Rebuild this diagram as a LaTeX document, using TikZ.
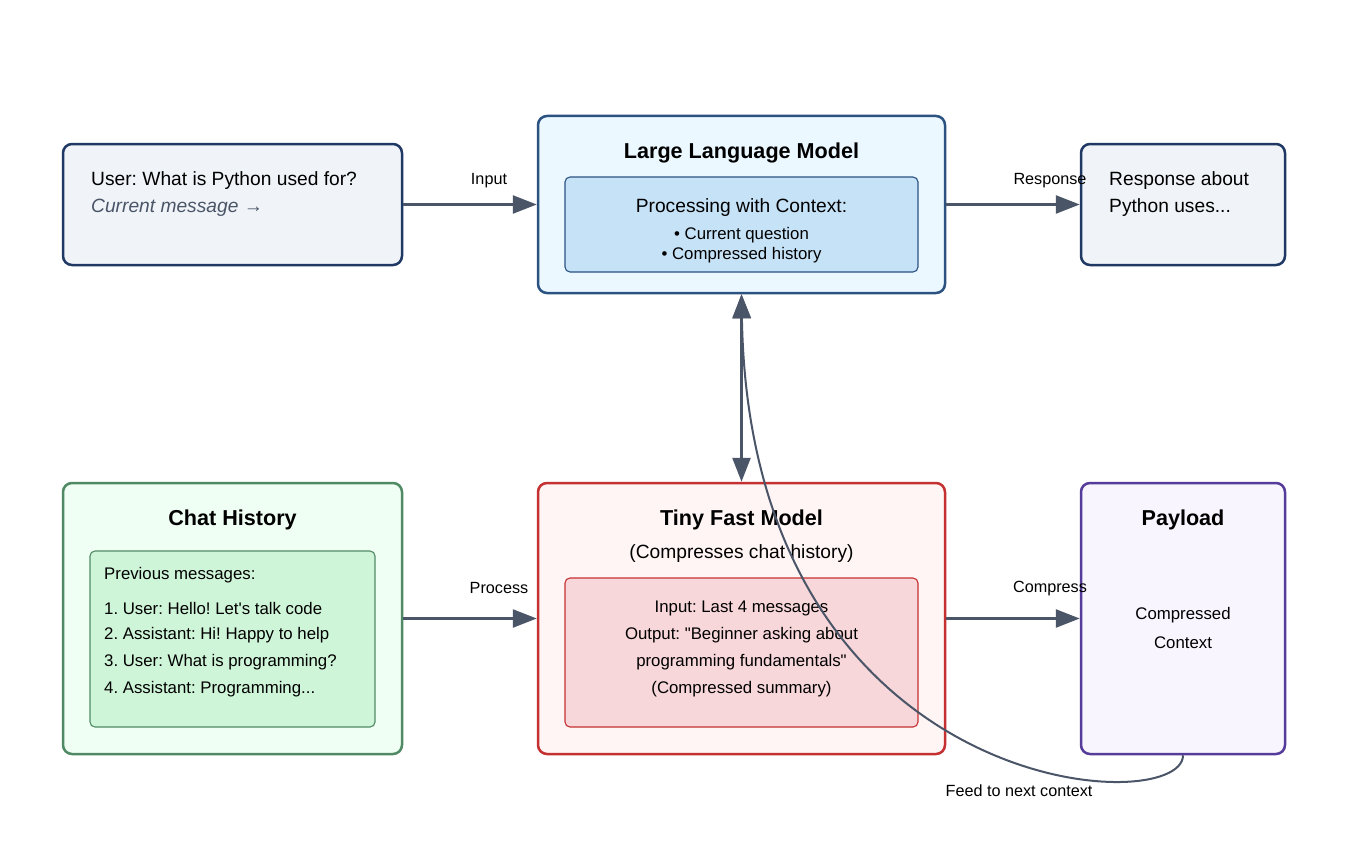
\documentclass[tikz,border=0pt]{standalone}
\usepackage{fontspec}
\setmainfont{Liberation Sans}
\usetikzlibrary{arrows.meta}
\frenchspacing
\definecolor{arrowc}{HTML}{4A5568}
\definecolor{navy}{HTML}{1F3864}
\definecolor{userfill}{HTML}{F0F4F8}
\definecolor{llmstroke}{HTML}{2C5282}
\definecolor{llmfill}{HTML}{EBF8FF}
\definecolor{llminner}{HTML}{C5E2F7}
\definecolor{grnstroke}{HTML}{4F8A65}
\definecolor{grnfill}{HTML}{F0FFF4}
\definecolor{grninner}{HTML}{CFF5D8}
\definecolor{redstroke}{HTML}{C53030}
\definecolor{redfill}{HTML}{FFF5F5}
\definecolor{redinner}{HTML}{F8D7DA}
\definecolor{purstroke}{HTML}{553C9A}
\definecolor{purfill}{HTML}{F8F5FF}
\definecolor{graytext}{HTML}{4A5568}
\newcommand\ftitle{\fontsize{21.6}{26}\selectfont\bfseries}
\newcommand\fmain{\fontsize{19.2}{23}\selectfont}
\newcommand\fsmall{\fontsize{16.8}{20}\selectfont}
\newcommand\flabel{\fontsize{16.2}{19}\selectfont}
\begin{document}
\begin{tikzpicture}[x=1pt,y=-1pt,
  outerbox/.style={draw, line width=2.5pt, rounded corners=9pt, inner sep=0pt},
  innerbox/.style={draw, line width=1.1pt, rounded corners=5pt, inner sep=0pt},
  txt/.style={inner sep=0pt, text=black},
  lbl/.style={inner sep=0pt, text=black, font=\flabel},
  arr/.style={draw=arrowc, line width=2.5pt, -{Triangle[length=24pt,width=18pt]}},
  darr/.style={draw=arrowc, line width=2.5pt, {Triangle[length=24pt,width=18pt]}-{Triangle[length=24pt,width=18pt]}},
  carr/.style={draw=arrowc, line width=2pt, -{Triangle[length=24pt,width=18pt]}}
]
\useasboundingbox[fill=white] (0,0) rectangle (1362,848);

% boxes
\node[outerbox, draw=navy, fill=userfill, minimum width=339pt, minimum height=121pt] (user) at (232.5,204.5) {};
\node[outerbox, draw=llmstroke, fill=llmfill, minimum width=407pt, minimum height=177pt] (llm) at (741.5,204.5) {};
\node[innerbox, draw=llmstroke, fill=llminner, minimum width=353pt, minimum height=95pt] (llmin) at (741.5,224.5) {};
\node[outerbox, draw=navy, fill=userfill, minimum width=204pt, minimum height=121pt] (resp) at (1183,204.5) {};
\node[outerbox, draw=grnstroke, fill=grnfill, minimum width=339pt, minimum height=271pt] (chat) at (232.5,618.5) {};
\node[innerbox, draw=grnstroke, fill=grninner, minimum width=285pt, minimum height=176pt] (chatin) at (232.5,639) {};
\node[outerbox, draw=redstroke, fill=redfill, minimum width=407pt, minimum height=271pt] (tfm) at (741.5,618.5) {};
\node[innerbox, draw=redstroke, fill=redinner, minimum width=353pt, minimum height=149pt] (tfmin) at (741.5,652.5) {};
\node[outerbox, draw=purstroke, fill=purfill, minimum width=204pt, minimum height=271pt] (pay) at (1183,618.5) {};

% user box text
\node[txt, anchor=west, font=\fmain] (utext) at (91,180.5) {User: What is Python used for?};
\node[txt, anchor=west, font=\fmain\itshape, text=graytext] (ucur) at (91,207.5) {Current message →};

% LLM text
\node[txt, font=\ftitle] (llmt) at (741.5,152.5) {Large Language Model};
\node[txt, font=\fmain] (llmp) at (741.5,207.5) {Processing with Context:};
\node[txt, font=\fsmall] (llmq) at (741.5,235.5) {\textbullet\ Current question};
\node[txt, font=\fsmall] (llmh) at (741.5,255.5) {\textbullet\ Compressed history};

% response text
\node[txt, anchor=west, font=\fmain] (r1) at (1109,180.5) {Response about};
\node[txt, anchor=west, font=\fmain] (r2) at (1109,207.5) {Python uses...};

% chat history text
\node[txt, font=\ftitle] (ct) at (232.5,519.5) {Chat History};
\node[txt, anchor=west, font=\fsmall] (c0) at (104,575.5) {Previous messages:};
\node[txt, anchor=west, font=\fsmall] (c1) at (104,608.5) {1. User: Hello! Let\textquotesingle s talk code};
\node[txt, anchor=west, font=\fsmall] (c2) at (104,635.5) {2. Assistant: Hi! Happy to help};
\node[txt, anchor=west, font=\fsmall] (c3) at (104,662.5) {3. User: What is programming?};
\node[txt, anchor=west, font=\fsmall] (c4) at (104,689.5) {4. Assistant: Programming...};

% tiny fast model text
\node[txt, font=\ftitle] (tt) at (741.5,519.5) {Tiny Fast Model};
\node[txt, font=\fmain] (ts) at (741.5,553.5) {(Compresses chat history)};
\node[txt, font=\fsmall] (t1) at (741.5,608.5) {Input: Last 4 messages};
\node[txt, font=\fsmall] (t2) at (741.5,635.5) {Output: \textquotedbl Beginner asking about};
\node[txt, font=\fsmall] (t3) at (741.5,662.5) {programming fundamentals\textquotedbl};
\node[txt, font=\fsmall] (t4) at (741.5,689.5) {(Compressed summary)};

% payload text
\node[txt, font=\ftitle] (pt) at (1183,519.5) {Payload};
\node[txt, font=\fsmall] (p1) at (1183,615.5) {Compressed};
\node[txt, font=\fsmall] (p2) at (1183,642.5) {Context};

% connectors
\draw[arr] (user.east) -- (llm.west);
\draw[arr] (llm.east) -- (resp.west);
\draw[arr] (chat.east) -- (tfm.west);
\draw[arr] (tfm.east) -- (pay.west);
\draw[darr] (llm.south) -- (tfm.north);
\draw[carr] (pay.south) .. controls (1183,820) and (750,800) .. (llm.south);

% connector labels
\node[lbl] (linput) at (489,180.5) {Input};
\node[lbl] (lresp) at (1050,180.5) {Response};
\node[lbl] (lproc) at (499,588.5) {Process};
\node[lbl] (lcomp) at (1050,588.5) {Compress};
\node[lbl] (lfeed) at (1019,791) {Feed to next context};
\end{tikzpicture}
\end{document}
